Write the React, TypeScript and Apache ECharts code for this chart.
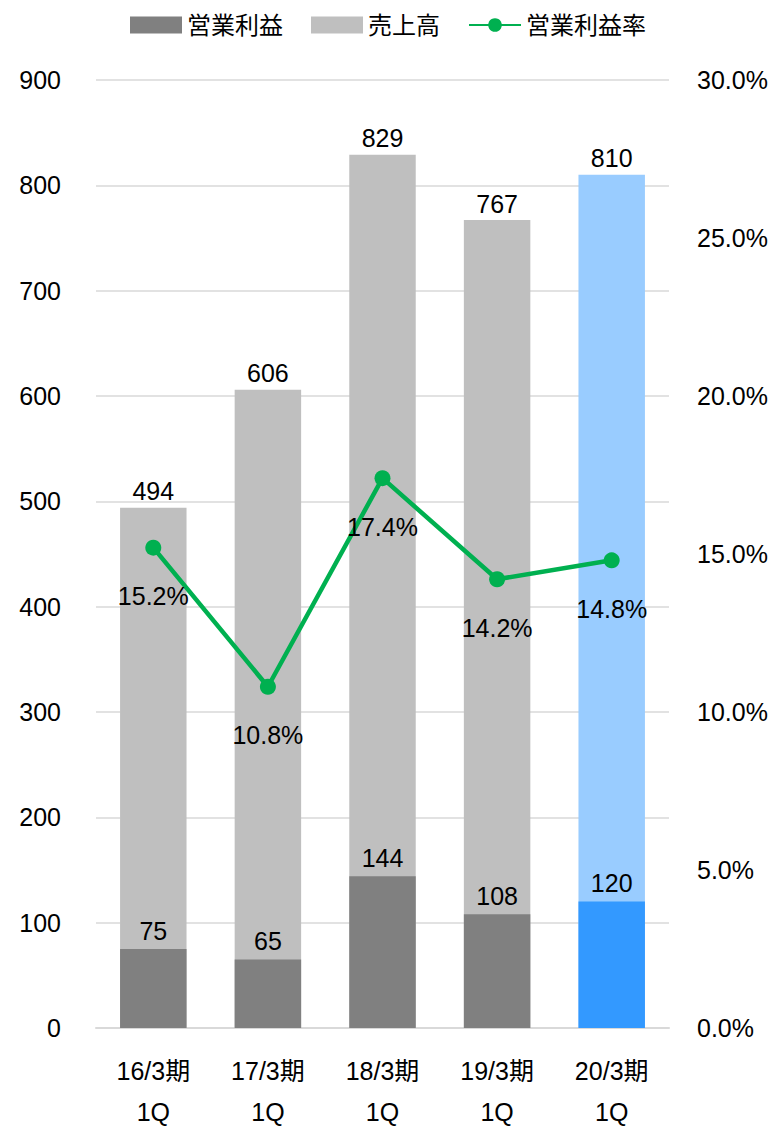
import React, { useEffect, useRef } from "react";
import * as echarts from "echarts";

const categories = ["16/3期\n1Q", "17/3期\n1Q", "18/3期\n1Q", "19/3期\n1Q", "20/3期\n1Q"];
const sales = [494, 606, 829, 767, 810];
const operatingIncome = [75, 65, 144, 108, 120];
const marginPct = [15.2, 10.8, 17.4, 14.2, 14.8];

const FONT = "'Liberation Sans', Arial, 'Noto Sans CJK JP', sans-serif";
const FS = 25;

export default function App() {
  const ref = useRef<HTMLDivElement>(null);
  useEffect(() => {
    document.body.style.margin = "0";
    const chart = echarts.init(ref.current!, null, { renderer: "svg" });
    const last = categories.length - 1;
    chart.setOption({
      animation: false,
      textStyle: { fontFamily: FONT },
      legend: {
        top: 8,
        left: "center",
        itemWidth: 52,
        itemHeight: 17,
        itemGap: 28,
        textStyle: { fontSize: 24, color: "#000", fontFamily: FONT },
        data: [
          { name: "営業利益", icon: "rect" },
          { name: "売上高", icon: "rect" },
          { name: "営業利益率" },
        ],
      },
      grid: { left: 96, right: 107, top: 80, bottom: 99, outerBoundsMode: "none" },
      xAxis: {
        type: "category",
        data: categories,
        axisLine: { lineStyle: { color: "#d9d9d9", width: 2 } },
        axisTick: { show: false },
        axisLabel: { color: "#000", fontSize: FS, lineHeight: 41, margin: 22, fontFamily: FONT },
      },
      yAxis: [
        {
          type: "value",
          min: 0,
          max: 900,
          interval: 100,
          axisLine: { show: false },
          axisTick: { show: false },
          splitLine: { lineStyle: { color: "#d9d9d9", width: 1.5 } },
          axisLabel: { color: "#000", fontSize: FS, margin: 35, fontFamily: FONT },
        },
        {
          type: "value",
          min: 0,
          max: 30,
          interval: 5,
          position: "right",
          axisLine: { show: false },
          axisTick: { show: false },
          splitLine: { show: false },
          axisLabel: {
            color: "#000",
            fontSize: FS,
            margin: 28,
            fontFamily: FONT,
            formatter: (v: number) => v.toFixed(1) + "%",
          },
        },
      ],
      series: [
        {
          name: "売上高",
          type: "bar",
          barWidth: "58%",
          barGap: "-100%",
          z: 1,
          itemStyle: { color: "#bfbfbf" },
          data: sales.map((v, i) =>
            i === last ? { value: v, itemStyle: { color: "#99ccff" } } : v
          ),
          label: { show: true, position: "top", distance: 4, color: "#000", fontSize: FS, fontFamily: FONT },
        },
        {
          name: "営業利益",
          type: "bar",
          barWidth: "58%",
          barGap: "-100%",
          z: 2,
          itemStyle: { color: "#808080" },
          data: operatingIncome.map((v, i) =>
            i === last ? { value: v, itemStyle: { color: "#3399ff" } } : v
          ),
          label: { show: true, position: "top", distance: 6, color: "#000", fontSize: FS, fontFamily: FONT },
        },
        {
          name: "営業利益率",
          type: "line",
          yAxisIndex: 1,
          z: 5,
          symbol: "circle",
          symbolSize: 16,
          lineStyle: { color: "#00b050", width: 4.5 },
          itemStyle: { color: "#00b050" },
          data: marginPct,
          label: {
            show: true,
            position: "bottom",
            distance: 28,
            color: "#000",
            fontSize: FS,
            fontFamily: FONT,
            formatter: (p: any) => Number(p.value).toFixed(1) + "%",
          },
        },
      ],
    });
    return () => chart.dispose();
  }, []);
  return <div ref={ref} style={{ width: 776, height: 1127 }} />;
}
